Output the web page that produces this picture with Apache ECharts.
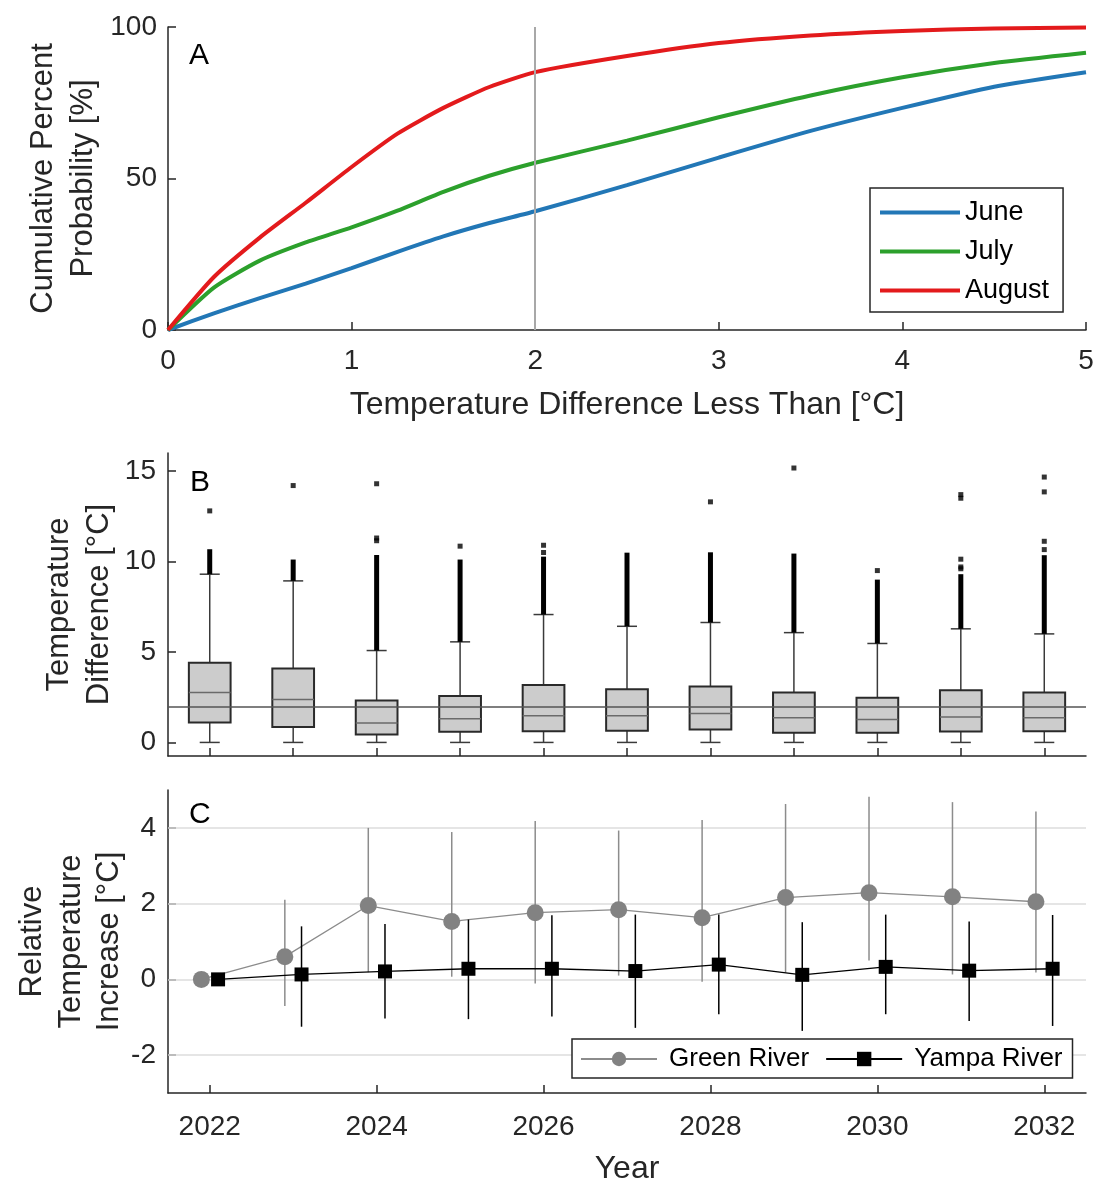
<!DOCTYPE html>
<html>
<head>
<meta charset="utf-8">
<script src="https://cdn.jsdelivr.net/npm/echarts@6/dist/echarts.min.js"></script>
<style>
html,body{margin:0;padding:0;background:#fff;}
#chart{width:1097px;height:1182px;}
</style>
</head>
<body>
<div id="chart"></div>
<script>
// ---------- Panel A: cumulative probability ----------
const tempDiff = [0, 0.25, 0.5, 0.75, 1, 1.25, 1.5, 1.75, 2, 2.5, 3, 3.5, 4, 4.5, 5];
const juneCum   = [0, 5.5, 10.5, 15.3, 20.4, 25.8, 30.9, 35.3, 39.2, 47.8, 56.9, 65.7, 73.3, 80.3, 85.1];
const julyCum   = [0, 14.0, 22.9, 28.9, 33.9, 39.4, 45.6, 50.9, 55.2, 62.5, 70.2, 77.4, 83.4, 88.1, 91.5];
const augustCum = [0, 17.5, 30.5, 42.0, 53.8, 64.8, 73.3, 80.2, 85.1, 90.4, 94.7, 97.2, 98.7, 99.5, 99.8];
const thresholdA = 2;

// ---------- Panel B: box plots ----------
const years = [2022, 2023, 2024, 2025, 2026, 2027, 2028, 2029, 2030, 2031, 2032];
const whiskerLow  = [0, 0, 0, 0, 0, 0, 0, 0, 0, 0, 0];
const boxQ1       = [1.10, 0.86, 0.44, 0.59, 0.62, 0.64, 0.72, 0.53, 0.53, 0.60, 0.62];
const boxMedian   = [2.76, 2.38, 1.08, 1.31, 1.47, 1.47, 1.60, 1.36, 1.27, 1.41, 1.36];
const boxQ3       = [4.40, 4.09, 2.32, 2.56, 3.18, 2.94, 3.09, 2.76, 2.47, 2.89, 2.76];
const whiskerHigh = [9.30, 8.93, 5.08, 5.56, 7.07, 6.42, 6.63, 6.07, 5.47, 6.28, 6.00];
const outlierDenseTop = [10.57, 10.0, 10.25, 10.0, 10.16, 10.38, 10.4, 10.33, 8.89, 9.19, 10.24];
const outlierPoints = [
  [2022, 12.8],
  [2023, 14.2],
  [2024, 11.15], [2024, 11.3], [2024, 14.3],
  [2025, 10.85],
  [2026, 10.5], [2026, 10.9],
  [2028, 13.3],
  [2029, 15.17],
  [2030, 9.5],
  [2031, 9.6], [2031, 9.7], [2031, 10.13], [2031, 13.5], [2031, 13.7],
  [2032, 10.66], [2032, 11.12], [2032, 13.85], [2032, 14.67]
];
const thresholdB = 2;

// ---------- Panel C: relative temperature increase ----------
const greenMean = [0, 0.60, 1.95, 1.53, 1.76, 1.84, 1.63, 2.16, 2.29, 2.18, 2.05];
const greenLow  = [0, -0.70, 0.19, 0.07, -0.11, 0.10, -0.06, 0.18, 0.50, 0.13, 0.18];
const greenHigh = [0, 2.10, 4.00, 3.89, 4.18, 3.93, 4.21, 4.63, 4.82, 4.68, 4.43];
const yampaMean = [0, 0.13, 0.21, 0.28, 0.28, 0.22, 0.39, 0.12, 0.33, 0.23, 0.28];
const yampaLow  = [0, -1.25, -1.03, -1.05, -0.98, -1.28, -0.92, -1.36, -0.92, -1.10, -1.23];
const yampaHigh = [0, 1.40, 1.46, 1.58, 1.69, 1.71, 1.71, 1.51, 1.71, 1.53, 1.70];
const dodge = 0.1;

const xTicksB = years;
const xLabelsC = [2022, 2024, 2026, 2028, 2030, 2032];
const yTicksA = [0, 50, 100];
const yTicksB = [0, 5, 10, 15];
const yTicksC = [-2, 0, 2, 4];

// ---------- build ----------
const FONT = "'Liberation Sans', Arial, Helvetica, sans-serif";
const TXT = '#262626';
const AX = '#262626';

function axisCommon(extra) {
  return Object.assign({
    axisLine: {show: true, onZero: false, lineStyle: {color: AX, width: 1.5}},
    axisTick: {show: true, inside: true, length: 8, lineStyle: {color: AX, width: 1.5}},
    axisLabel: {color: TXT, fontSize: 28, fontFamily: FONT},
    splitLine: {show: false},
    nameMoveOverlap: false,
    nameTextStyle: {color: TXT, fontSize: 32, fontFamily: FONT}
  }, extra);
}

const boxData = years.map((y, i) => [y, whiskerLow[i], boxQ1[i], boxMedian[i], boxQ3[i], whiskerHigh[i]]);
const denseData = years.map((y, i) => [y, whiskerHigh[i], outlierDenseTop[i]]);
const greenLine = years.map((y, i) => [y - dodge, greenMean[i]]);
const yampaLine = years.map((y, i) => [y + dodge, yampaMean[i]]);
const greenErr = years.map((y, i) => [y - dodge, greenLow[i], greenHigh[i]]);
const yampaErr = years.map((y, i) => [y + dodge, yampaLow[i], yampaHigh[i]]);

function renderBox(params, api) {
  const x = api.value(0);
  const lo = api.coord([x, api.value(1)]);
  const q1 = api.coord([x, api.value(2)]);
  const md = api.coord([x, api.value(3)]);
  const q3 = api.coord([x, api.value(4)]);
  const hi = api.coord([x, api.value(5)]);
  const unit = api.size([1, 0])[0];
  const bw = unit * 0.25;
  const cw = unit * 0.12;
  const st = {stroke: '#3a3a3a', lineWidth: 1.5, fill: null};
  return {
    type: 'group',
    children: [
      {type: 'line', shape: {x1: lo[0], y1: lo[1], x2: q1[0], y2: q1[1]}, style: st},
      {type: 'line', shape: {x1: q3[0], y1: q3[1], x2: hi[0], y2: hi[1]}, style: st},
      {type: 'line', shape: {x1: lo[0] - cw, y1: lo[1], x2: lo[0] + cw, y2: lo[1]}, style: st},
      {type: 'line', shape: {x1: hi[0] - cw, y1: hi[1], x2: hi[0] + cw, y2: hi[1]}, style: st},
      {type: 'rect', shape: {x: q3[0] - bw, y: q3[1], width: 2 * bw, height: q1[1] - q3[1]},
       style: {fill: '#cccccc', stroke: '#2a2a2a', lineWidth: 2}},
      {type: 'line', shape: {x1: md[0] - bw, y1: md[1], x2: md[0] + bw, y2: md[1]},
       style: {stroke: '#6a6a6a', lineWidth: 1.5}}
    ]
  };
}

function renderDense(params, api) {
  const x = api.value(0);
  const a = api.coord([x, api.value(1)]);
  const b = api.coord([x, api.value(2)]);
  return {type: 'line', shape: {x1: a[0], y1: a[1], x2: b[0], y2: b[1] - 2},
          style: {stroke: '#000', lineWidth: 5}};
}

function errRenderer(color) {
  return function (params, api) {
    const x = api.value(0);
    const a = api.coord([x, api.value(1)]);
    const b = api.coord([x, api.value(2)]);
    return {type: 'line', shape: {x1: a[0], y1: a[1], x2: b[0], y2: b[1]},
            style: {stroke: color, lineWidth: 1.5}};
  };
}

const nameStyle = {color: TXT, fontSize: 31, fontFamily: FONT, lineHeight: 40};

const option = {
  backgroundColor: '#fff',
  animation: false,
  textStyle: {fontFamily: FONT, color: TXT},
  grid: [
    {left: 168, right: 11, top: 27, height: 303, outerBoundsMode: 'none', containLabel: false},
    {left: 168, right: 11, top: 453, height: 303, outerBoundsMode: 'none', containLabel: false},
    {left: 168, right: 11, top: 790, height: 303, outerBoundsMode: 'none', containLabel: false}
  ],
  xAxis: [
    axisCommon({gridIndex: 0, type: 'value', min: 0, max: 5, interval: 1,
      name: 'Temperature Difference Less Than [°C]', nameLocation: 'middle', nameGap: 59,
      axisLabel: {color: TXT, fontSize: 28, fontFamily: FONT, margin: 17}}),
    axisCommon({gridIndex: 1, type: 'value', min: 2021.5, max: 2032.5,
      axisTick: {show: true, inside: true, length: 8, customValues: xTicksB, lineStyle: {color: AX, width: 1.5}},
      axisLabel: {show: false}}),
    axisCommon({gridIndex: 2, type: 'value', min: 2021.5, max: 2032.5,
      name: 'Year', nameLocation: 'middle', nameGap: 60,
      axisTick: {show: true, inside: true, length: 8, customValues: xLabelsC, lineStyle: {color: AX, width: 1.5}},
      axisLabel: {color: TXT, fontSize: 28, fontFamily: FONT, margin: 20, customValues: xLabelsC,
                  formatter: v => String(v)}})
  ],
  yAxis: [
    axisCommon({gridIndex: 0, type: 'value', min: 0, max: 100,
      name: 'Cumulative Percent\nProbability [%]', nameLocation: 'middle', nameRotate: 90, nameGap: 65,
      nameTextStyle: nameStyle,
      axisTick: {show: true, inside: true, length: 8, customValues: yTicksA, lineStyle: {color: AX, width: 1.5}},
      axisLabel: {color: TXT, fontSize: 28, fontFamily: FONT, margin: 11, customValues: yTicksA}}),
    axisCommon({gridIndex: 1, type: 'value', min: -0.75, max: 16,
      name: 'Temperature\nDifference [°C]', nameLocation: 'middle', nameRotate: 90, nameGap: 49,
      nameTextStyle: nameStyle,
      axisTick: {show: true, inside: true, length: 8, customValues: yTicksB, lineStyle: {color: AX, width: 1.5}},
      axisLabel: {color: TXT, fontSize: 28, fontFamily: FONT, margin: 12, customValues: yTicksB}}),
    axisCommon({gridIndex: 2, type: 'value', min: -3, max: 5,
      name: 'Relative\nTemperature\nIncrease [°C]', nameLocation: 'middle', nameRotate: 90, nameGap: 39,
      nameTextStyle: {color: TXT, fontSize: 31, fontFamily: FONT, lineHeight: 38.5},
      axisTick: {show: true, inside: true, length: 8, customValues: yTicksC, lineStyle: {color: AX, width: 1.5}},
      axisLabel: {color: TXT, fontSize: 28, fontFamily: FONT, margin: 12, customValues: yTicksC}})
  ],
  legend: [
    {
      data: ['June', 'July', 'August'],
      orient: 'vertical', left: 870, top: 188,
      backgroundColor: '#fff', borderColor: '#262626', borderWidth: 1.5,
      padding: [11, 14, 8, 10], itemGap: 12,
      icon: 'rect', itemWidth: 80, itemHeight: 4,
      textStyle: {color: '#000', fontSize: 27, fontFamily: FONT, padding: [0, 0, 0, 0]}
    },
    {
      data: ['Green River', 'Yampa River'],
      orient: 'horizontal', left: 572, top: 1039,
      backgroundColor: '#fff', borderColor: '#262626', borderWidth: 1.5,
      padding: [7, 10, 6, 8], itemGap: 16,
      itemWidth: 76, itemHeight: 18,
      textStyle: {color: '#000', fontSize: 26, fontFamily: FONT, padding: [0, 0, 0, 7]}
    }
  ],
  graphic: [
    {type: 'text', left: 189, top: 41, style: {text: 'A', fontSize: 30, fontFamily: FONT, fill: '#000'}},
    {type: 'text', left: 190, top: 468, style: {text: 'B', fontSize: 30, fontFamily: FONT, fill: '#000'}},
    {type: 'text', left: 189, top: 800, style: {text: 'C', fontSize: 30, fontFamily: FONT, fill: '#000'}}
  ],
  series: [
    // Panel A
    {name: 'June', type: 'line', xAxisIndex: 0, yAxisIndex: 0, smooth: 0.2, showSymbol: false,
     data: tempDiff.map((t, i) => [t, juneCum[i]]), color: '#2277b6', lineStyle: {width: 4}, z: 3,
     markLine: {silent: true, symbol: 'none', label: {show: false},
       lineStyle: {color: '#a8a8a8', width: 2, type: 'solid'}, data: [{xAxis: thresholdA}]}},
    {name: 'July', type: 'line', xAxisIndex: 0, yAxisIndex: 0, smooth: 0.2, showSymbol: false,
     data: tempDiff.map((t, i) => [t, julyCum[i]]), color: '#2ca02c', lineStyle: {width: 4}, z: 3},
    {name: 'August', type: 'line', xAxisIndex: 0, yAxisIndex: 0, smooth: 0.2, showSymbol: false,
     data: tempDiff.map((t, i) => [t, augustCum[i]]), color: '#e31a1c', lineStyle: {width: 4}, z: 3},
    // Panel B
    {name: 'boxes', type: 'custom', xAxisIndex: 1, yAxisIndex: 1, renderItem: renderBox, data: boxData, z: 2},
    {name: 'dense outliers', type: 'custom', xAxisIndex: 1, yAxisIndex: 1, renderItem: renderDense, data: denseData, z: 3},
    {name: 'outliers', type: 'scatter', xAxisIndex: 1, yAxisIndex: 1, symbol: 'rect', symbolSize: 5,
     itemStyle: {color: '#000'}, data: outlierPoints, z: 4,
     markLine: {silent: true, symbol: 'none', label: {show: false},
       lineStyle: {color: '#555', width: 1.5, type: 'solid'}, data: [{yAxis: thresholdB}]}},
    // Panel C
    {name: 'green err', type: 'custom', xAxisIndex: 2, yAxisIndex: 2, renderItem: errRenderer('#8c8c8c'), data: greenErr, z: 3,
     markLine: {silent: true, symbol: 'none', label: {show: false}, z: 1,
       lineStyle: {color: '#dcdcdc', width: 1.5, type: 'solid'}, data: yTicksC.map(v => ({yAxis: v}))}},
    {name: 'Green River', type: 'line', xAxisIndex: 2, yAxisIndex: 2, data: greenLine,
     symbol: 'circle', symbolSize: 17, color: '#828282', lineStyle: {width: 1.3, color: '#8c8c8c'}, z: 4},
    {name: 'yampa err', type: 'custom', xAxisIndex: 2, yAxisIndex: 2, renderItem: errRenderer('#000'), data: yampaErr, z: 5},
    {name: 'Yampa River', type: 'line', xAxisIndex: 2, yAxisIndex: 2, data: yampaLine,
     symbol: 'rect', symbolSize: 14, color: '#000', lineStyle: {width: 1.3, color: '#000'}, z: 6}
  ]
};

const chart = echarts.init(document.getElementById('chart'), null, {renderer: 'canvas'});
chart.setOption(option);
</script>
</body>
</html>
